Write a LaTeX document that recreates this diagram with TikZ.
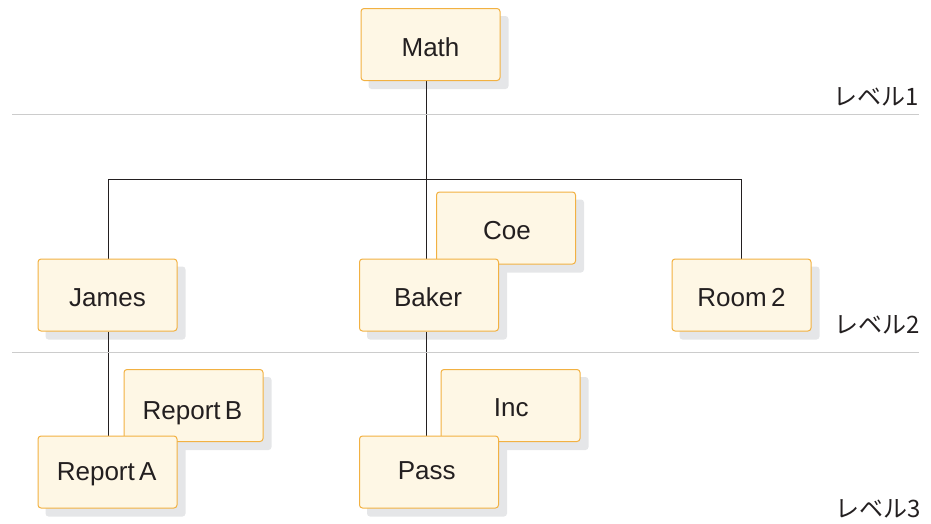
\documentclass[tikz,border=0pt]{standalone}
\usepackage{fontspec}
\setmainfont{Liberation Sans}
\newfontfamily\cjk{Noto Sans CJK JP}
\definecolor{boxfill}{HTML}{FEF7E5}
\definecolor{boxdraw}{HTML}{F2B142}
\definecolor{shadowgray}{HTML}{E5E6E8}
\definecolor{rulegray}{HTML}{CCCCCC}
\definecolor{linedark}{HTML}{231F20}
\definecolor{textdark}{HTML}{231F20}
\pgfdeclarelayer{shadowlayer}
\pgfdeclarelayer{linelayer}
\pgfsetlayers{shadowlayer,linelayer,main}
% #1 = lower by (pt), #2 = shift right by (pt), #3 = text
\newcommand{\placed}[3]{\raisebox{-#1pt}{\hspace*{\dimexpr #2pt+#2pt\relax}#3}}
\newcommand{\placedL}[3]{\raisebox{-#1pt}{#3\hspace*{\dimexpr #2pt+#2pt\relax}}}
\tikzset{
  box/.style={draw=boxdraw, fill=boxfill, line width=1pt, rounded corners=3pt,
    minimum width=139pt, minimum height=72pt, inner sep=0pt,
    text height=18.7pt, text depth=0pt,
    font=\fontsize{26}{30}\selectfont, text=textdark},
  shadowbox/.style={fill=shadowgray, rounded corners=3pt},
  conn/.style={draw=linedark, line width=1pt},
  rule/.style={draw=rulegray, line width=1pt},
  lvl/.style={anchor=base east, inner sep=0pt, font=\cjk\fontsize{24}{28}\selectfont, text=textdark}
}
\newcommand{\shadowof}[1]{\fill[shadowbox] ([shift={(8,8)}]#1.south west) rectangle ([shift={(8,8)}]#1.north east);}
\begin{document}
\begin{tikzpicture}[x=1pt,y=-1pt]
\useasboundingbox (0,0) rectangle (931,523);
% level rules
\coordinate (r1a) at (12,114); \coordinate (r1b) at (919,114);
\coordinate (r2a) at (12,352); \coordinate (r2b) at (919,352);
\draw[rule] (r1a) -- (r1b);
\draw[rule] (r2a) -- (r2b);
% boxes
\node[box] (math) at (430.5,44.5) {\placed{2.5}{0}{Math}};
\node[box] (coe) at (506,228) {\placed{2.6}{1}{Coe}};
\node[box] (baker) at (429,295) {\placedL{2.6}{1}{Baker}};
\node[box] (james) at (107.5,295) {\placed{2.3}{0}{James}};
\node[box] (room) at (741.5,295) {\placed{2.3}{0}{Room\,2}};
\node[box] (repb) at (193.5,405.5) {\placedL{4.5}{1}{Report\,B}};
\node[box] (inc) at (510.5,405.5) {\placed{1.7}{0.8}{Inc}};
\node[box] (repa) at (107.5,472) {\placedL{-0.4}{0.8}{Report\,A}};
\node[box] (pass) at (429,472) {\placedL{-2}{2.2}{Pass}};
% shadows
\begin{pgfonlayer}{shadowlayer}
\shadowof{math}\shadowof{coe}\shadowof{baker}\shadowof{james}\shadowof{room}
\shadowof{repb}\shadowof{inc}\shadowof{repa}\shadowof{pass}
\end{pgfonlayer}
% connectors
\coordinate (vx) at (426,0);
\coordinate (busL) at (108,179);
\coordinate (busR) at (741,179);
\begin{pgfonlayer}{linelayer}
\draw[conn] (math.south -| vx) -- (baker.north -| vx);
\draw[conn] (busL |- james.north) -- (busL) -- (busR) -- (busR |- room.north);
\draw[conn] (baker.south -| vx) -- (pass.north -| vx);
\draw[conn] (busL |- james.south) -- (busL |- repa.north);
\end{pgfonlayer}
% level labels
\node[lvl] (l1) at (919,105) {レベル1};
\node[lvl] (l2) at (920,333) {レベル2};
\node[lvl] (l3) at (921,517) {レベル3};
\end{tikzpicture}
\end{document}
